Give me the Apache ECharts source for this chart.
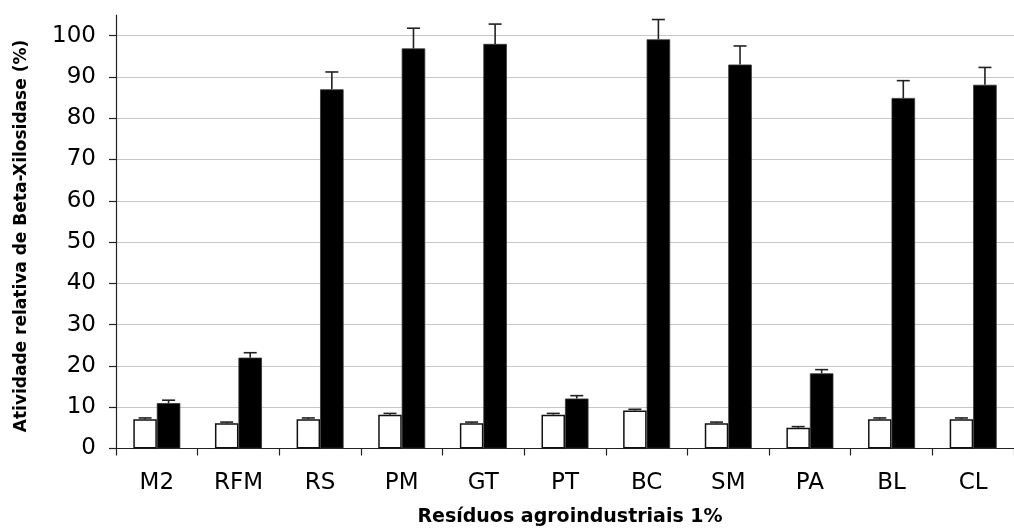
<!DOCTYPE html>
<html><head><meta charset="utf-8">
<script src="https://cdn.jsdelivr.net/npm/echarts@6/dist/echarts.min.js"></script>
<style>html,body{margin:0;padding:0;background:#fff}#c{width:1014px;height:528px}</style>
</head><body><div id="c"></div>
<script>
const categories = ['M2','RFM','RS','PM','GT','PT','BC','SM','PA','BL','CL'];
const controlValues = [7.1, 6.1, 7.1, 8.2, 6.1, 8.2, 9.2, 6.1, 5.0, 7.1, 7.1];
const controlErrors = [0.3, 0.3, 0.3, 0.3, 0.3, 0.3, 0.3, 0.3, 0.3, 0.3, 0.3];
const inducedValues = [11.0, 22.0, 87.0, 96.9, 98.0, 12.1, 99.1, 93.0, 18.2, 84.9, 88.1];
const inducedErrors = [0.7, 1.2, 4.2, 4.9, 4.8, 0.7, 4.8, 4.5, 0.9, 4.2, 4.2];
const yTicks = [0, 10, 20, 30, 40, 50, 60, 70, 80, 90, 100];
const xTitle = 'Resíduos agroindustriais 1%';
const yTitle = 'Atividade relativa de Beta-Xilosidase (%)';

const BAR_W = 23.5, CAP = 13;
const chart = echarts.init(document.getElementById('c'), null, {renderer: 'canvas'});

function errRender(sign) {
  return function (params, api) {
    const i = api.value(0), v = api.value(1), e = api.value(2);
    const base = api.coord([i, v]);
    const top = api.coord([i, v + e]);
    const x = base[0] + sign * BAR_W / 2;
    return {
      type: 'group',
      children: [
        {type: 'line', shape: {x1: x, y1: base[1], x2: x, y2: top[1]}, style: {stroke: '#222', lineWidth: 1.6}},
        {type: 'line', shape: {x1: x - CAP / 2, y1: top[1], x2: x + CAP / 2, y2: top[1]}, style: {stroke: '#222', lineWidth: 1.6}}
      ]
    };
  };
}

const tickFont = 'DejaVu Sans';
chart.setOption({
  animation: false,
  grid: {left: 116, top: 15, width: 913, height: 433.5, containLabel: false},
  xAxis: {
    type: 'category',
    data: categories,
    boundaryGap: true,
    axisLine: {show: true, lineStyle: {color: '#222', width: 1.2}},
    axisTick: {show: true, inside: false, length: 7, interval: 0, lineStyle: {color: '#222', width: 1.2}},
    axisLabel: {color: '#000', fontSize: 23, fontFamily: tickFont, margin: 23, interval: 0},
    splitLine: {show: false}
  },
  yAxis: {
    type: 'value',
    min: 0, max: 105, interval: 10,
    axisLine: {show: true, lineStyle: {color: '#222', width: 1.2}},
    axisTick: {show: true, inside: false, length: 7, lineStyle: {color: '#222', width: 1.2}, customValues: yTicks},
    axisLabel: {color: '#000', fontSize: 23, fontFamily: tickFont, margin: 20,
      customValues: yTicks,
      formatter: v => (v > 100 ? '' : String(v))},
    splitLine: {show: true, lineStyle: {color: '#c8c8c8', width: 1.2}}
  },
  graphic: [
    {type: 'text', x: 21.5, y: 236, rotation: Math.PI / 2, z: 10,
      style: {text: yTitle, font: 'bold 17px "DejaVu Sans"', fill: '#000', textAlign: 'center', textVerticalAlign: 'middle'}},
    {type: 'text', x: 570, y: 517, z: 10,
      style: {text: xTitle, font: 'bold 19px "DejaVu Sans"', fill: '#000', textAlign: 'center', textVerticalAlign: 'middle'}}
  ],
  series: [
    {type: 'bar', name: 'controle', data: controlValues, barWidth: BAR_W, barGap: '0%',
      itemStyle: {color: '#fff', borderColor: '#111', borderWidth: 1.5}},
    {type: 'bar', name: 'induzido', data: inducedValues, barWidth: BAR_W, barGap: '0%',
      itemStyle: {color: '#000', borderColor: '#333', borderWidth: 0.8}},
    {type: 'custom', renderItem: errRender(-1), z: 5,
      data: categories.map((c, i) => [i, controlValues[i], controlErrors[i]]), encode: {x: 0, y: 1}},
    {type: 'custom', renderItem: errRender(1), z: 5,
      data: categories.map((c, i) => [i, inducedValues[i], inducedErrors[i]]), encode: {x: 0, y: 1}}
  ]
});
</script></body></html>
